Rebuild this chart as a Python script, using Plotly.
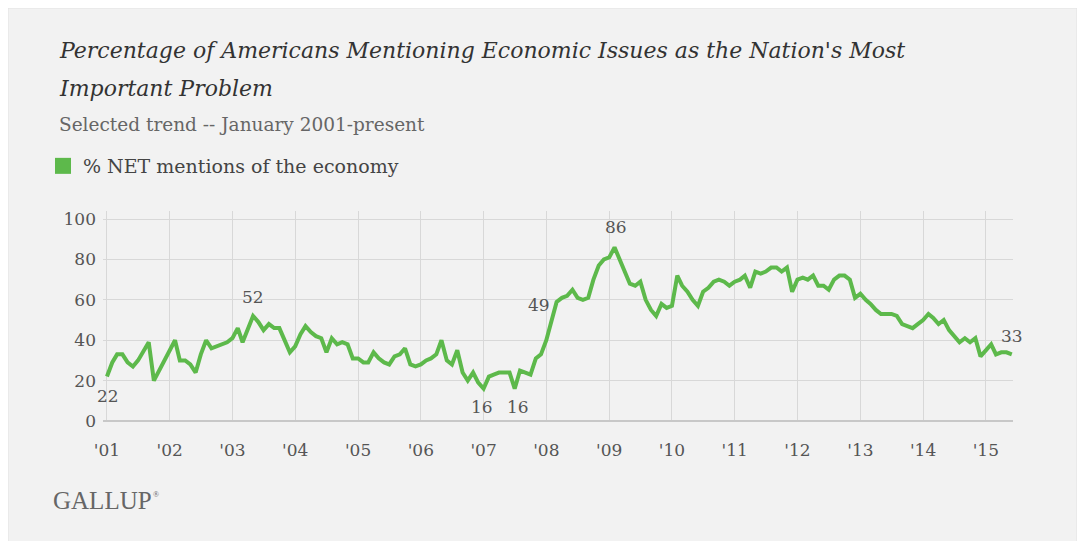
import pandas as pd
import plotly.graph_objects as go

# ---- data (monthly, % NET mentions of the economy) ----
v2001 = [22, 29, 33, 33, 29, 27, 30, 35, 39, 20, 25, 30]
v2002 = [35, 40, 30, 30, 28, 24, 33, 40, 36, 37, 38, 39]
v2003 = [41, 46, 39, 46, 52, 49, 45, 48, 46, 46, 40, 34]
v2004 = [37, 43, 47, 44, 42, 41, 34, 41, 38, 39, 38, 31]
v2005 = [31, 29, 29, 34, 31, 29, 28, 32, 33, 36, 28, 27]
v2006 = [28, 30, 31, 33, 40, 30, 28, 35, 24, 20, 24, 19]
v2007 = [16, 22, 23, 24, 24, 24, 16, 25, 24, 23, 31, 33]
v2008 = [40, 49, 59, 61, 62, 65, 61, 60, 61, 70, 77, 80]
v2009 = [81, 86, 80, 74, 68, 67, 69, 60, 55, 52, 58, 56]
v2010 = [57, 72, 67, 64, 60, 57, 64, 66, 69, 70, 69, 67]
v2011 = [69, 70, 72, 66, 74, 73, 74, 76, 76, 74, 76, 64]
v2012 = [70, 71, 70, 72, 67, 67, 65, 70, 72, 72, 70, 61]
v2013 = [63, 60, 58, 55, 53, 53, 53, 52, 48, 47, 46, 48]
v2014 = [50, 53, 51, 48, 50, 45, 42, 39, 41, 39, 41, 32]
v2015 = [35, 38, 33, 34, 34, 33]

values = (v2001 + v2002 + v2003 + v2004 + v2005 + v2006 + v2007 + v2008 +
          v2009 + v2010 + v2011 + v2012 + v2013 + v2014 + v2015)
months = pd.date_range("2001-01-01", periods=len(values), freq="MS")

tick_years = [str(y) for y in range(2001, 2016)]
tick_labels = ["'" + y[2:] for y in tick_years]

# labelled points: (month date, text, xshift, yshift)
labels = [("2001-01-01", "22", 1, -19),
          ("2003-05-01", "52", 0, 19),
          ("2009-02-01", "86", 1, 20),
          ("2007-01-01", "16", -2, -18),
          ("2007-07-01", "16", 3, -18),
          ("2008-02-01", "49", -13, 17),
          ("2015-06-01", "33", 0, 18)]

GREEN = "#5DB94B"
SERIF = "DejaVu Serif"

# the page puts the figure 8px in from the window corner
OFF = 8
W, H = 1085 - 2 * OFF, 549 - 2 * OFF
# plot area in window pixels: x 103..1013, y 211..421
L, R, T, B = 103 - OFF, 1013 - OFF, 211 - OFF, 421 - OFF

def px(wx):
    return (wx - OFF - L) / (R - L)

def py(wy):
    return (B - (wy - OFF)) / (B - T)

fig = go.Figure()
fig.add_trace(go.Scatter(x=months, y=values, mode="lines",
                         line=dict(color=GREEN, width=4, shape="linear"),
                         showlegend=False, hoverinfo="x+y"))
fig.add_trace(go.Scatter(x=[None], y=[None], mode="markers",
                         marker=dict(symbol="square", size=20, color=GREEN),
                         name="% NET mentions of the economy", showlegend=True))

val_by_date = dict(zip([d.strftime("%Y-%m-%d") for d in months], values))
for d, t, xs, ys in labels:
    fig.add_annotation(x=d, y=val_by_date[d], text=t, showarrow=False,
                       xshift=xs, yshift=ys,
                       font=dict(family=SERIF, size=17, color="#555555"))

# panel background
fig.add_shape(type="rect", xref="paper", yref="paper",
              x0=px(8), x1=px(1077), y0=py(560), y1=py(8),
              fillcolor="#f2f2f2", line=dict(color="#e2e2e2", width=1),
              layer="below")

fig.add_annotation(xref="paper", yref="paper", x=px(57), y=py(50),
                   xanchor="left", yanchor="middle", showarrow=False,
                   text="<i>Percentage of Americans Mentioning Economic Issues as the Nation's Most</i>",
                   font=dict(family=SERIF, size=22, color="#333333"))
fig.add_annotation(xref="paper", yref="paper", x=px(57), y=py(88),
                   xanchor="left", yanchor="middle", showarrow=False,
                   text="<i>Important Problem</i>",
                   font=dict(family=SERIF, size=22, color="#333333"))
fig.add_annotation(xref="paper", yref="paper", x=px(57), y=py(125),
                   xanchor="left", yanchor="middle", showarrow=False,
                   text="Selected trend -- January 2001-present",
                   font=dict(family=SERIF, size=18.5, color="#666666"))
fig.add_annotation(xref="paper", yref="paper", x=px(51), y=py(500),
                   xanchor="left", yanchor="middle", showarrow=False,
                   text="GALLUP",
                   font=dict(family="Liberation Serif", size=25, color="#666666"))
fig.add_annotation(xref="paper", yref="paper", x=px(151), y=py(494),
                   xanchor="left", yanchor="middle", showarrow=False,
                   text="®",
                   font=dict(family="Liberation Serif", size=8, color="#666666"))

fig.update_layout(
    width=W, height=H,
    margin=dict(l=L, r=W - R, t=T, b=H - B),
    paper_bgcolor="white", plot_bgcolor="rgba(0,0,0,0)",
    legend=dict(x=px(43), y=py(166), xanchor="left", yanchor="middle",
                orientation="h", bgcolor="rgba(0,0,0,0)",
                font=dict(family=SERIF, size=19, color="#444444")),
)
fig.update_xaxes(type="date", range=["2000-12-09", "2015-06-08"],
                 tickvals=[y + "-01-01" for y in tick_years], ticktext=tick_labels,
                 showgrid=True, gridcolor="#d8d8d8", gridwidth=1,
                 zeroline=False, showline=False, ticks="",
                 ticklabelstandoff=17,
                 tickfont=dict(family=SERIF, size=17, color="#555555"))
fig.update_yaxes(range=[0, 104], tickvals=[0, 20, 40, 60, 80, 100],
                 showgrid=True, gridcolor="#d8d8d8", gridwidth=1,
                 zeroline=True, zerolinecolor="#c8c8c8", zerolinewidth=2,
                 ticks="", ticklabelstandoff=6,
                 tickfont=dict(family=SERIF, size=17, color="#555555"))

fig.write_html("out.html")
